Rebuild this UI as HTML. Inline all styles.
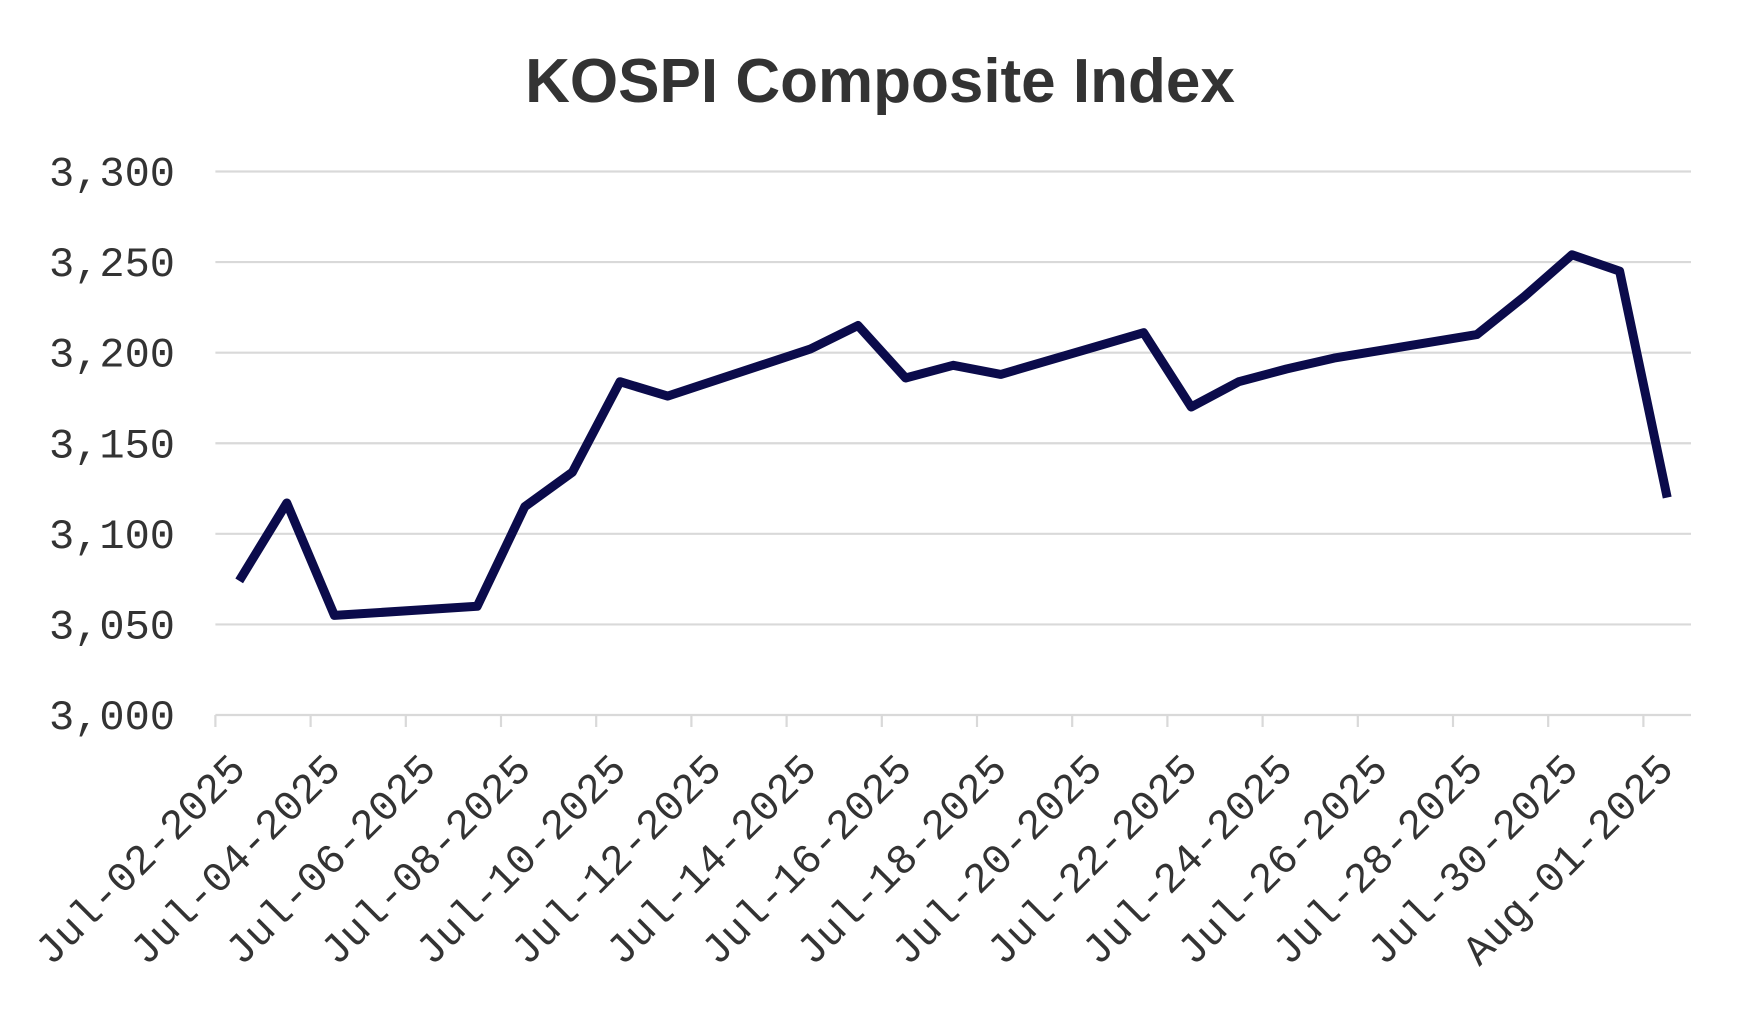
<!DOCTYPE html>
<html><head><meta charset="utf-8"><style>
html,body{margin:0;padding:0;background:#fff;}
svg{display:block;}
</style></head><body>
<svg id="chart" width="1760" height="1012" viewBox="0 0 1760 1012" xmlns="http://www.w3.org/2000/svg">
<text x="880" y="102" text-anchor="middle" font-family="Liberation Sans, sans-serif" font-weight="bold" font-size="62" fill="#333333">KOSPI Composite Index</text>
<g id="grid"></g><g id="yaxis"></g><g id="xaxis"></g><g id="series"></g>
</svg>
<script>
const dates = ["2025-07-02","2025-07-03","2025-07-04","2025-07-07","2025-07-08","2025-07-09","2025-07-10","2025-07-11","2025-07-14","2025-07-15","2025-07-16","2025-07-17","2025-07-18","2025-07-21","2025-07-22","2025-07-23","2025-07-24","2025-07-25","2025-07-28","2025-07-29","2025-07-30","2025-07-31","2025-08-01"];
const values = [3074,3117,3055,3060,3115,3134,3184,3176,3202,3215,3186,3193,3188,3211,3170,3184,3191,3197,3210,3231,3254,3245,3120];
const yTicks = [3000,3050,3100,3150,3200,3250,3300];
const yTickLabels = ["3,000","3,050","3,100","3,150","3,200","3,250","3,300"];
const xTickLabels = ["Jul-02-2025","Jul-04-2025","Jul-06-2025","Jul-08-2025","Jul-10-2025","Jul-12-2025","Jul-14-2025","Jul-16-2025","Jul-18-2025","Jul-20-2025","Jul-22-2025","Jul-24-2025","Jul-26-2025","Jul-28-2025","Jul-30-2025","Aug-01-2025"];

const NS="http://www.w3.org/2000/svg";
const L=215.4,R=1691,T=171.5,B=715;
const startMs=Date.UTC(2025,6,2), DAY=86400000, nDays=31;
const slot=(R-L)/nDays;
function xDay(i){return L+slot*i;}
function xDate(s){const p=s.split("-");const d=(Date.UTC(+p[0],+p[1]-1,+p[2])-startMs)/DAY;return L+slot*(d+0.5);}
function y(v){return B-(v-3000)/(300)*(B-T);}
function mk(tag,attrs,parent){const e=document.createElementNS(NS,tag);for(const k in attrs)e.setAttribute(k,attrs[k]);parent.appendChild(e);return e;}
const grid=document.getElementById("grid"),ya=document.getElementById("yaxis"),xa=document.getElementById("xaxis"),se=document.getElementById("series");
yTicks.forEach((v,i)=>{
  const g=mk("line",{x1:L,x2:R,y1:y(v),y2:y(v),stroke:"#d9d9d9","stroke-width":2.2},grid);
  
  
  const t=mk("text",{x:175,y:y(v)+14,"text-anchor":"end","font-family":"Liberation Mono, monospace","font-size":42,fill:"#333"},ya);
  t.textContent=yTickLabels[i];
  
  
});
xTickLabels.forEach((lab,i)=>{
  const x=xDay(i*2);
  const tk=mk("line",{x1:x,x2:x,y1:B,y2:B+12,stroke:"#d9d9d9","stroke-width":2.2},xa);
  
  
  const ax=x+32, ay=B+56;
  const t=mk("text",{x:ax,y:ay,"text-anchor":"end","font-family":"Liberation Mono, monospace","font-size":42,fill:"#333",transform:`rotate(-45 ${ax} ${ay})`},xa);
  t.textContent=lab;
  
  
});
const pts=dates.map((d,i)=>xDate(d).toFixed(1)+","+y(values[i]).toFixed(1)).join(" ");
const pl=mk("polyline",{points:pts,fill:"none",stroke:"#0b0b4b","stroke-width":9,"stroke-linejoin":"round","stroke-linecap":"butt"},se);


</script>
</body></html>
